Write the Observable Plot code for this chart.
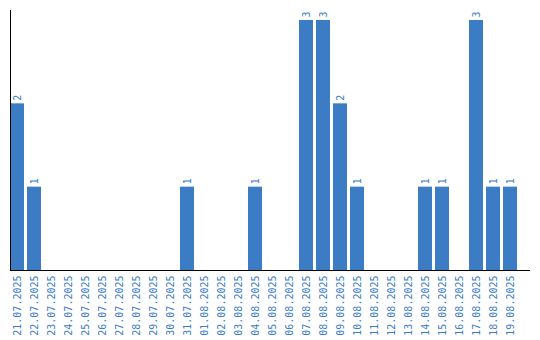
<!DOCTYPE html>
<html><head><meta charset="utf-8">
<script src="https://cdn.jsdelivr.net/npm/d3@7"></script>
<script src="https://cdn.jsdelivr.net/npm/@observablehq/plot@0.6"></script>
<style>body{margin:0;background:#fff;}</style>
</head><body><div id="chart"></div>
<script>
const dates = ["21.07.2025","22.07.2025","23.07.2025","24.07.2025","25.07.2025","26.07.2025","27.07.2025","28.07.2025","29.07.2025","30.07.2025","31.07.2025","01.08.2025","02.08.2025","03.08.2025","04.08.2025","05.08.2025","06.08.2025","07.08.2025","08.08.2025","09.08.2025","10.08.2025","11.08.2025","12.08.2025","13.08.2025","14.08.2025","15.08.2025","16.08.2025","17.08.2025","18.08.2025","19.08.2025"];
const counts = [2,1,0,0,0,0,0,0,0,0,1,0,0,0,1,0,0,3,3,2,1,0,0,0,1,1,0,3,1,1];
const data = dates.map((d,i)=>({date:d, n:counts[i]}));
const blue = "#3b7cc4";
const chart = Plot.plot({
  width: 540, height: 340,
  marginLeft: 10, marginRight: 10, marginTop: 10, marginBottom: 70,
  style: {fontFamily: "DejaVu Sans Mono", fontSize: "10px", background: "#fff"},
  x: {domain: dates, paddingInner: 0.2, paddingOuter: 0.39, align: 0, label: null},
  y: {domain: [0, 3.12], axis: null},
  marks: [
    Plot.barY(data, {x: "date", y: "n", fill: blue}),
    Plot.text(data.filter(d=>d.n>0), {x: "date", y: "n", text: d=>String(d.n), rotate: -90, textAnchor: "start", dy: -3, fill: blue, fontSize: 10}),
    Plot.axisX({tickRotate: -90, tickSize: 0, tickPadding: 5, fill: blue, fontSize: 10, label: null}),
    Plot.ruleY([0], {stroke: "#000"}),
    Plot.frame({anchor: "left", stroke: "#000"})
  ]
});
document.getElementById("chart").append(chart);
</script></body></html>
